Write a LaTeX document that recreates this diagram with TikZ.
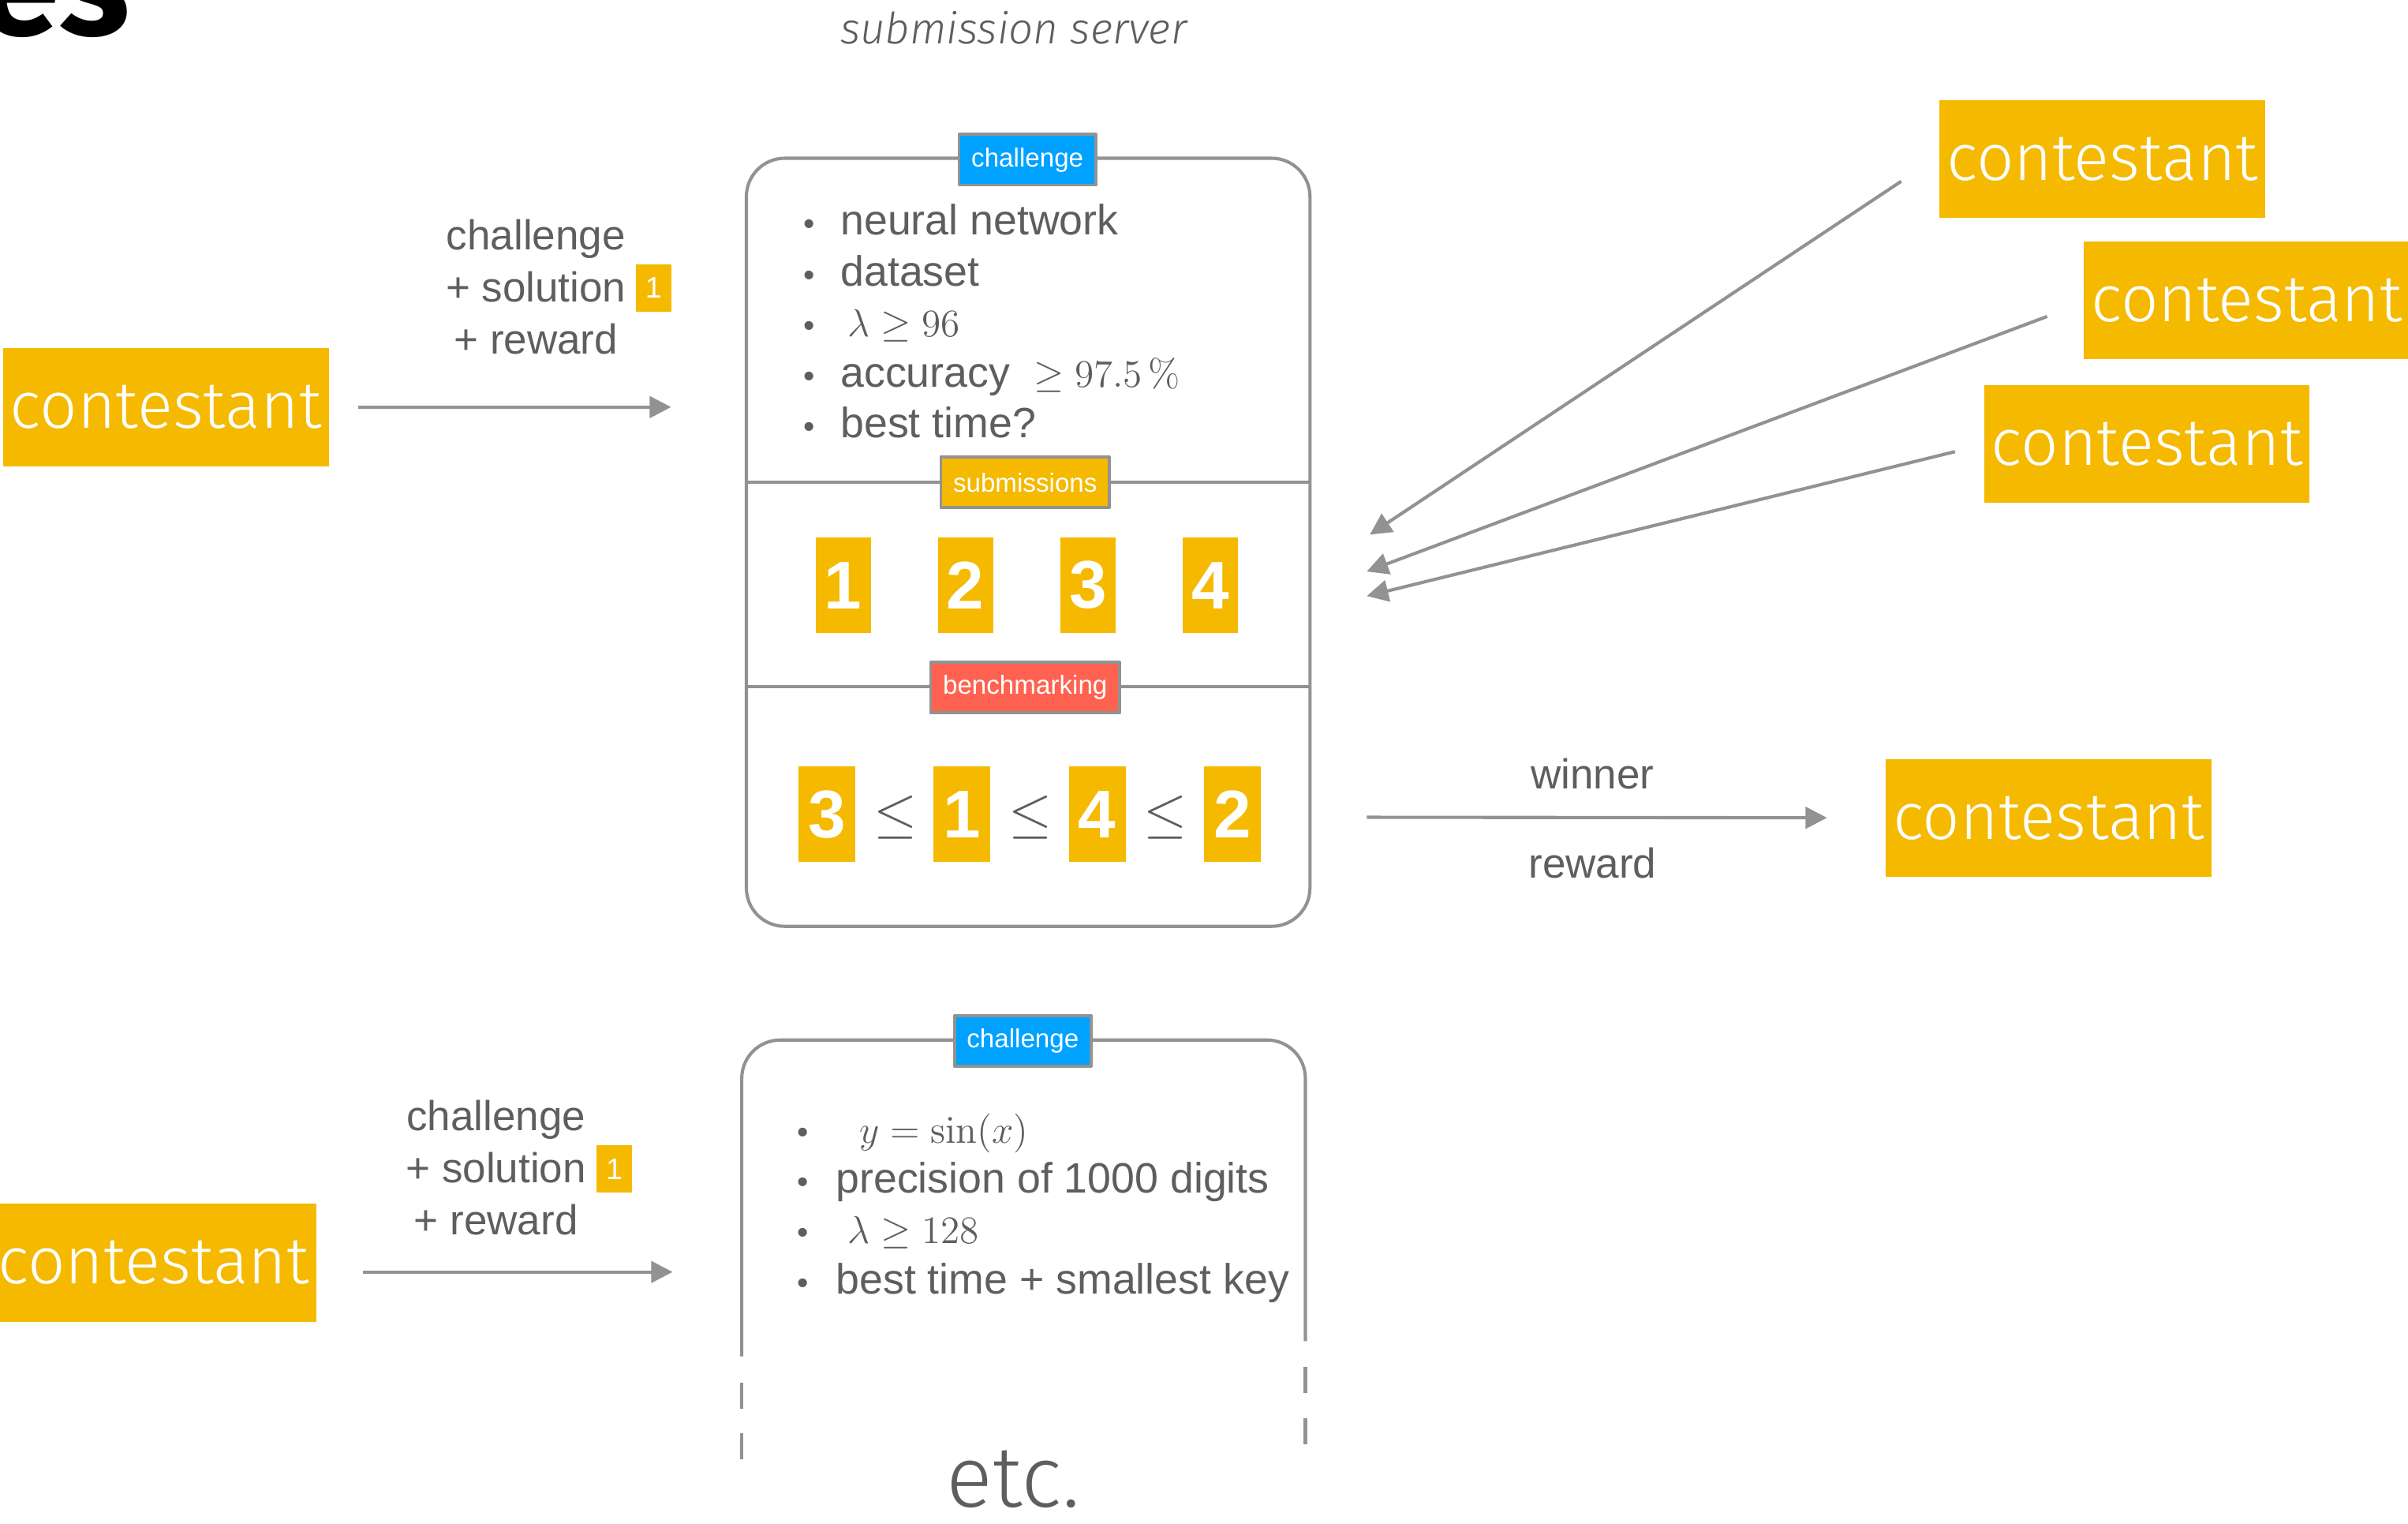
\documentclass[tikz,border=0pt]{standalone}
\usepackage[no-math]{fontspec}
\setmainfont{Liberation Sans}
\newfontfamily\condfont{Fira Sans Light}
\newfontfamily\ttlfont{Fira Sans}
\usetikzlibrary{arrows.meta}
\definecolor{cyellow}{HTML}{F5B900}
\definecolor{cblue}{HTML}{00A2FF}
\definecolor{cred}{HTML}{FF6251}
\definecolor{cline}{HTML}{929292}
\definecolor{ctext}{HTML}{5E5E5E}
\tikzset{
contestant/.style={fill=cyellow, text=white, minimum width=4.24cm, minimum height=1.54cm, inner sep=0pt, font=\condfont\fontsize{24.4}{24.4}\selectfont},
tag/.style={draw=cline, line width=1.1pt, text=white, minimum height=0.66cm, inner xsep=0.16cm, inner ysep=0pt, font=\fontsize{9.7}{10}\selectfont},
numbox/.style={fill=cyellow, text=white, minimum width=0.72cm, minimum height=1.24cm, inner sep=0pt, font=\bfseries\fontsize{25}{25}\selectfont},
smallnum/.style={fill=cyellow, text=white, minimum width=0.46cm, minimum height=0.62cm, inner sep=0pt, font=\fontsize{11}{11}\selectfont},
item/.style={anchor=base west, inner sep=0pt, text=ctext, font=\fontsize{15.7}{18.8}\selectfont},
bul/.style={anchor=base, inner sep=0pt, text=ctext, font=\fontsize{12}{12}\selectfont},
lbl/.style={text=ctext, align=center, inner sep=0pt, font=\fontsize{15.5}{19.3}\selectfont},
arr/.style={->, draw=cline, line width=1.2pt},
frame/.style={draw=cline, line width=1.2pt}
}
\begin{document}
\begin{tikzpicture}[x=0.02cm, y=-0.02cm, line join=round, >={Triangle[length=0.28cm,width=0.28cm]}]
\useasboundingbox (0,0) rectangle (1568,992);
\node[anchor=base west, inner sep=0pt, font=\ttlfont\bfseries\fontsize{54}{54}\selectfont] (ttl) at (-14,23) {es};
\node[text=ctext, font=\condfont\itshape\fontsize{16}{16}\selectfont] (srv) at (660,18) {submission server};
% server
\draw[frame, rounded corners=0.5cm] (486,103) rectangle (853,603);
\draw[cline, line width=1pt] (486,314) -- (853,314) (486,447) -- (853,447);
\node[tag, fill=cblue] (chal) at (669,104) {challenge};
\node[tag, fill=cyellow] (subm) at (667.5,314) {submissions};
\node[tag, fill=cred] (bench) at (667.5,447.5) {benchmarking};
\foreach \t [count=\i] in {neural network, dataset, {\,$\lambda\geq 96$}, {accuracy \ $\geq 97.5\,\%$}, best time?} {
  \node[bul] (b\i) at (527,{153+33*(\i-1)}) {\textbullet};
  \node[item] (t\i) at (547,{153+33*(\i-1)}) {\t};
}
\foreach \n in {1,...,4}
  \node[numbox] (n\n) at ({549+79.7*(\n-1)},381) {\n};
\foreach \n [count=\i] in {3,1,4,2}
  \node[numbox, minimum width=0.74cm] (r\i) at ({538.5+88*(\i-1)},530) {\n};
\foreach \i in {1,2,3}
  \node[text=ctext, font=\fontsize{20}{20}\selectfont] (le\i) at ({583+88*(\i-1)},532) {$\leq$};
% contestants
\node[contestant] (c1) at (108,265) {contestant};
\node[contestant] (ca) at (1369,103.5) {contestant};
\node[contestant] (cb) at (1463,195.5) {contestant};
\node[contestant] (cc) at (1398,289) {contestant};
\node[contestant] (cw) at (1334,532.5) {contestant};
\node[contestant] (c2) at (100,822) {contestant};
\coordinate (in1) at (437,265);
\draw[arr, shorten <=0.38cm] (c1) -- (in1);
\node[lbl] (l1) at (349,187) {challenge\\+ solution\\+ reward};
\node[smallnum] (s1) at (425.5,187.5) {1};
\coordinate (pa) at (1238,118); \coordinate (qa) at (892,348);
\coordinate (pb) at (1333,206); \coordinate (qb) at (890,372);
\coordinate (pc) at (1273,294); \coordinate (qc) at (890,388);
\foreach \s/\e in {pa/qa, pb/qb, pc/qc}
  \draw[arr] (\s) -- (\e);
\coordinate (w0) at (890,532);
\draw[arr, shorten >=0.76cm] (w0) -- (cw);
\node[lbl] (wn) at (1037,504) {winner};
\node[lbl] (wr) at (1037,562) {reward};
% second challenge
\coordinate (in2) at (438,828);
\draw[arr, shorten <=0.6cm] (c2.east |- in2) -- (in2);
\node[lbl] (l2) at (323,760) {challenge\\+ solution\\+ reward};
\node[smallnum] (s2) at (400,761) {1};
\draw[frame, rounded corners=0.5cm] (483,883) -- (483,677) -- (850,677) -- (850,873);
\draw[frame, dash pattern=on 0.34cm off 0.32cm] (483,900) -- (483,950) (850,890) -- (850,940);
\node[tag, fill=cblue] (chal2) at (666,677.5) {challenge};
\foreach \t [count=\i] in {{\ \ $y=\sin(x)$}, precision of 1000 digits, {\ $\lambda\geq 128$}, best time + smallest key} {
  \node[bul] (ub\i) at (523,{744+32.7*(\i-1)}) {\textbullet};
  \node[item] (u\i) at (544,{744+32.7*(\i-1)}) {\t};
}
\node[anchor=base, inner sep=0pt, text=ctext, font=\condfont\fontsize{32}{32}\selectfont] (etc) at (660,981) {etc.};
\end{tikzpicture}
\end{document}
